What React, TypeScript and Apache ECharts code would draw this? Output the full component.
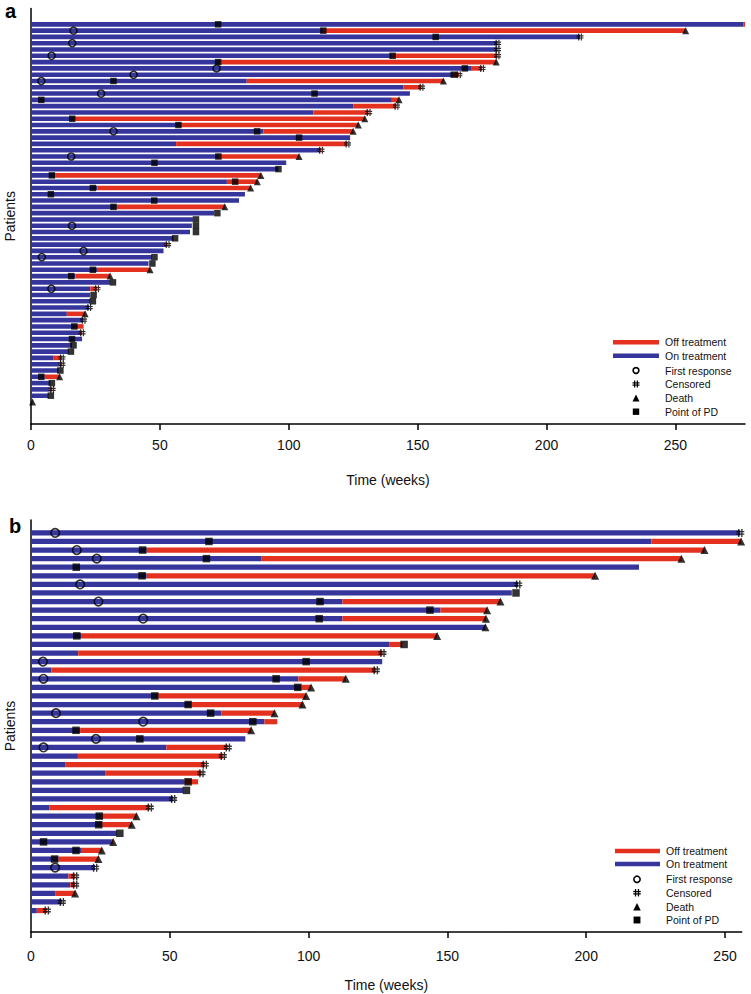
import React, { useEffect, useRef } from 'react';
import * as echarts from 'echarts';

// ---------- Panel a (61 patients, top to bottom) ----------
const aOn = [276.3, 113.4, 213, 181, 181, 140.3, 73.5, 171, 164, 83.7, 144.4, 147, 140, 125, 109.5, 17, 58.5, 90.2, 123.8, 56.3,
  112, 73, 99, 96, 9.4, 76, 25.8, 83, 80.7, 33.3, 71, 62.8, 62.4, 61.7, 55.3, 52, 51.4, 46.9, 45.6, 25.6,
  17.2, 30.7, 23, 23, 23, 22.6, 13.9, 20.4, 18.2, 19, 19.8, 15.9, 14.6, 8.8, 11, 10.7, 5.3, 7.5, 7.2, 6.8, 0.6];
const aEnd = [277, 254, 213, 181, 181, 181, 180.5, 175, 166, 160, 151.5, 147, 142.8, 141.8, 131, 129.5, 127, 125, 123.8, 122.8,
  112.5, 104, 99, 96, 89.2, 87.8, 85.2, 83, 80.7, 75.2, 71, 62.8, 62.4, 61.7, 55.3, 53, 51.4, 46.9, 45.6, 46.2,
  30.7, 30.7, 25.6, 23, 23, 22.6, 21, 20.4, 20.4, 19.8, 19.8, 15.9, 14.6, 12, 12, 10.7, 11.1, 7.5, 8.2, 6.8, 0.6];
const aEvent = ['', 'D', 'C', 'C', 'C', 'C', 'D', 'C', 'C', 'D', 'C', '', 'D', 'C', 'C', 'D', 'D', 'D', '', 'C',
  'C', 'D', '', '', 'D', 'D', 'D', '', '', 'D', '', '', '', '', '', 'C', '', '', '', 'D',
  'D', '', 'C', '', '', 'C', 'D', 'C', '', 'C', '', '', '', 'C', 'C', '', 'D', '', 'C', '', 'D'];
const aPD = [72.6, 113.4, 157, null, null, 140.3, 72.6, 168.3, 164, 32, null, 110, 4, null, null, 16, 57.2, 87.7, 104, null,
  null, 72.7, 47.9, 96, 8.1, 79.2, 24, 7.7, 47.8, 32, 72.3, 64, 64, 64, 55.9, null, null, 47.9, 47.1, 24,
  15.6, 31.8, null, 24.3, 24, null, null, null, 16.8, null, 15.9, 16.5, 15.5, null, null, 11.4, 4, 8.1, null, 7.7, null];
const aResp = [null, 16.5, null, 16, null, 8, null, 72, 39.8, 4, null, 27.2, null, null, null, null, null, 32, null, null,
  null, 15.6, null, null, null, null, null, null, null, null, null, null, 15.9, null, null, null, 20.4, 4.2, null, null,
  null, null, 7.9, null, null, null, null, null, null, null, null, null, null, null, null, null, null, null, null, null, null];

// ---------- Panel b (45 patients, top to bottom) ----------
const bOn = [255.5, 223.5, 41.7, 83.1, 219, 41.7, 175.5, 173.2, 112.2, 147.5, 112.2, 163.7, 18.3, 129, 17, 126.5, 7.3, 96.3, 97.3, 45.8,
  57.8, 68.6, 84.1, 17.7, 77.2, 48.8, 16.9, 12.3, 26.7, 55.4, 54.8, 51.2, 6.7, 25.6, 25.6, 30.9, 29.1, 18.3, 9.9, 23.1,
  13.5, 14.1, 8.7, 11.1, 2.1];
const bEnd = [255.5, 255.8, 242.6, 234.3, 219, 203.2, 175.5, 173.2, 169.1, 164.3, 163.9, 163.7, 146.3, 133.8, 126.6, 126.5, 124.2, 113.4, 100.9, 99.1,
  97.8, 87.7, 88.7, 79.3, 77.2, 70.9, 69.1, 62.6, 61.4, 60.2, 54.8, 51.2, 42.8, 38, 36.3, 30.9, 29.6, 25.5, 24.3, 23.1,
  15.9, 15.9, 15.9, 11.1, 5.7];
const bEvent = ['C', 'D', 'D', 'D', '', 'D', 'C', '', 'D', 'D', 'D', 'D', 'D', '', 'C', '', 'C', 'D', 'D', 'D',
  'D', 'D', '', 'D', '', 'C', 'C', 'C', 'C', '', '', 'C', 'C', 'D', 'D', '', 'D', 'D', 'D', 'C',
  'C', 'C', 'D', 'C', 'C'];
const bPD = [null, 64.1, 40.2, 63.2, 16.3, 40, null, 174.7, 104.1, 143.7, 103.8, null, 16.5, 134.4, null, 99.1, null, 88.3, 96.1, 44.6,
  56.6, 64.7, 79.9, 16.2, 39.2, null, null, null, null, 56.6, 56, null, null, 24.6, 24.4, 32, 4.5, 16.2, 8.5, null,
  null, null, null, null, null];
const bResp = [8.7, null, 16.5, 23.7, null, null, 17.7, null, 24.3, null, 40.4, null, null, null, null, 4.3, null, 4.5, null, null,
  null, 9, 40.4, null, 23.4, 4.5, null, null, null, null, null, null, null, null, null, null, null, null, null, 8.7,
  null, null, null, null, null];

const xTicks = [0, 50, 100, 150, 200, 250];
const legendNames = ['Off treatment', 'On treatment', 'First response', 'Censored', 'Death', 'Point of PD'];

const BLUE = '#35359c';
const RED = '#e3301f';
const FONT = '"Liberation Sans", Arial, Helvetica, sans-serif';
const HASH = 'path://M2.2,0h1.7v10h-1.7zM6.1,0h1.7v10h-1.7zM0,2.6h10v1.7h-10zM0,5.7h10v1.7h-10z';

type Panel = {
  id: string; on: number[]; end: number[]; event: string[]; pd: (number | null)[]; resp: (number | null)[];
  padTop: number; padBottom: number; max: number;
  grid: { left: number; right: number; top: number; height: number };
  barWidth: number; sq: number; circ: number; tri: number; hash: number; nameGap: number; labelMargin: number;
};

const panels: Panel[] = [
  {
    id: 'a', on: aOn, end: aEnd, event: aEvent, pd: aPD, resp: aResp, padTop: 2, padBottom: 3, max: 277,
    grid: { left: 31, right: 6, top: 8.6, height: 415.4 }, barWidth: 4.6, sq: 6.5, circ: 7, tri: 7, hash: 7, nameGap: 49, labelMargin: 14,
  },
  {
    id: 'b', on: bOn, end: bEnd, event: bEvent, pd: bPD, resp: bResp, padTop: 1, padBottom: 2, max: 256,
    grid: { left: 31, right: 9.3, top: 520, height: 412 }, barWidth: 5.2, sq: 7.5, circ: 8.5, tri: 8, hash: 8, nameGap: 46, labelMargin: 16.5,
  },
];

function buildOption() {
  const grids: any[] = [];
  const xAxes: any[] = [];
  const yAxes: any[] = [];
  const series: any[] = [];
  panels.forEach((p, idx) => {
    const rows = p.on.map((_, i) => `${p.id}${i + 1}`);
    const cats = [
      ...Array.from({ length: p.padTop }, (_, i) => `${p.id}t${i}`),
      ...rows,
      ...Array.from({ length: p.padBottom }, (_, i) => `${p.id}b${i}`),
    ];
    const onData = cats.map((c) => { const i = rows.indexOf(c); return i < 0 ? '-' : p.on[i]; });
    const offData = cats.map((c) => { const i = rows.indexOf(c); return i < 0 ? '-' : Math.max(0, +(p.end[i] - p.on[i]).toFixed(2)); });
    grids.push({ ...p.grid, containLabel: false, outerBoundsMode: 'none' });
    xAxes.push({
      type: 'value', gridIndex: idx, min: 0, max: p.max, interval: 50,
      name: 'Time (weeks)', nameLocation: 'middle', nameGap: p.nameGap,
      nameTextStyle: { fontSize: 14, color: '#111', fontFamily: FONT },
      axisLine: { show: true, lineStyle: { color: '#000', width: 1.5 } },
      axisTick: { show: true, inside: false, length: 6, lineStyle: { color: '#000', width: 1.5 }, customValues: xTicks },
      axisLabel: { fontSize: 14, color: '#111', fontFamily: FONT, margin: p.labelMargin, customValues: xTicks },
      splitLine: { show: false },
    });
    yAxes.push({
      type: 'category', gridIndex: idx, data: cats, inverse: true,
      name: 'Patients', nameLocation: 'middle', nameGap: 14, nameRotate: 90,
      nameTextStyle: { fontSize: 14, color: '#111', fontFamily: FONT },
      axisLine: { show: true, lineStyle: { color: '#000', width: 1.5 } },
      axisTick: { show: false }, axisLabel: { show: false }, splitLine: { show: false },
    });
    const common = { xAxisIndex: idx, yAxisIndex: idx, silent: true };
    series.push({ ...common, type: 'bar', name: 'On treatment', stack: 's' + idx, data: onData, barWidth: p.barWidth, itemStyle: { color: BLUE } });
    series.push({ ...common, type: 'bar', name: 'Off treatment', stack: 's' + idx, data: offData, barWidth: p.barWidth, itemStyle: { color: RED } });
    const pdData: any[] = []; const respData: any[] = []; const dData: any[] = []; const cData: any[] = [];
    rows.forEach((r, i) => {
      if (p.pd[i] != null) pdData.push([p.pd[i], r]);
      if (p.resp[i] != null) respData.push([p.resp[i], r]);
      if (p.event[i] === 'D') dData.push([p.end[i], r]);
      if (p.event[i] === 'C') cData.push([p.end[i], r]);
    });
    series.push({ ...common, type: 'scatter', name: 'Point of PD', data: pdData, symbol: 'rect', symbolSize: p.sq, clip: false, itemStyle: { color: '#000' } });
    series.push({ ...common, type: 'scatter', name: 'First response', data: respData, symbol: 'circle', symbolSize: p.circ, clip: false, itemStyle: { color: 'rgba(0,0,0,0)', borderColor: '#000', borderWidth: 1.6 } });
    series.push({ ...common, type: 'scatter', name: 'Death', data: dData, symbol: 'triangle', symbolSize: p.tri, clip: false, itemStyle: { color: '#000' } });
    series.push({ ...common, type: 'scatter', name: 'Censored', data: cData, symbol: HASH, symbolSize: p.hash, clip: false, itemStyle: { color: '#000' } });
  });

  const graphics: any[] = [];
  const legendSpecs = [
    { lineX: 613, lineW: 46, symX: 636, textX: 665, ys: [342.3, 355.7, 370.5, 384, 398, 411.7], s: 7 },
    { lineX: 615, lineW: 45, symX: 637, textX: 666, ys: [851, 864, 879.3, 892.7, 906.7, 920], s: 7.5 },
  ];
  legendSpecs.forEach((L) => {
    const [y0, y1, y2, y3, y4, y5] = L.ys;
    graphics.push({ type: 'rect', shape: { x: L.lineX, y: y0 - 2.2, width: L.lineW, height: 4.4 }, style: { fill: RED } });
    graphics.push({ type: 'rect', shape: { x: L.lineX, y: y1 - 2.2, width: L.lineW, height: 4.4 }, style: { fill: BLUE } });
    graphics.push({ type: 'circle', shape: { cx: L.symX, cy: y2, r: L.s / 2 - 0.6 }, style: { fill: 'none', stroke: '#000', lineWidth: 1.6 } });
    const h = L.s; const hx = L.symX - h / 2; const hy = y3 - h / 2; const t = h * 0.17;
    graphics.push({ type: 'rect', shape: { x: hx + h * 0.22, y: hy, width: t, height: h }, style: { fill: '#000' } });
    graphics.push({ type: 'rect', shape: { x: hx + h * 0.61, y: hy, width: t, height: h }, style: { fill: '#000' } });
    graphics.push({ type: 'rect', shape: { x: hx, y: hy + h * 0.26, width: h, height: t }, style: { fill: '#000' } });
    graphics.push({ type: 'rect', shape: { x: hx, y: hy + h * 0.57, width: h, height: t }, style: { fill: '#000' } });
    graphics.push({ type: 'polygon', shape: { points: [[L.symX, y4 - L.s / 2], [L.symX + L.s / 2, y4 + L.s / 2], [L.symX - L.s / 2, y4 + L.s / 2]] }, style: { fill: '#000' } });
    graphics.push({ type: 'rect', shape: { x: L.symX - L.s / 2 + 0.3, y: y5 - L.s / 2 + 0.3, width: L.s - 0.6, height: L.s - 0.6 }, style: { fill: '#000' } });
    legendNames.forEach((n, i) => {
      graphics.push({ type: 'text', x: L.textX, y: L.ys[i], style: { text: n, fill: '#111', font: `10.5px ${FONT}`, verticalAlign: 'middle', align: 'left' } });
    });
  });
  graphics.push({ type: 'text', x: 5, y: 11, style: { text: 'a', fill: '#000', font: `bold 20px ${FONT}`, verticalAlign: 'middle', align: 'left' } });
  graphics.push({ type: 'text', x: 9, y: 526, style: { text: 'b', fill: '#000', font: `bold 20px ${FONT}`, verticalAlign: 'middle', align: 'left' } });

  return {
    animation: false,
    backgroundColor: '#fff',
    textStyle: { fontFamily: FONT },
    grid: grids,
    xAxis: xAxes,
    yAxis: yAxes,
    series,
    graphic: graphics,
  };
}

export default function App() {
  const ref = useRef<HTMLDivElement>(null);
  useEffect(() => {
    if (!ref.current) return;
    const chart = echarts.init(ref.current, undefined, { renderer: 'svg' });
    chart.setOption(buildOption() as any);
    return () => chart.dispose();
  }, []);
  return <div ref={ref} style={{ position: 'fixed', left: 0, top: 0, width: 751, height: 994, background: '#fff' }} />;
}
